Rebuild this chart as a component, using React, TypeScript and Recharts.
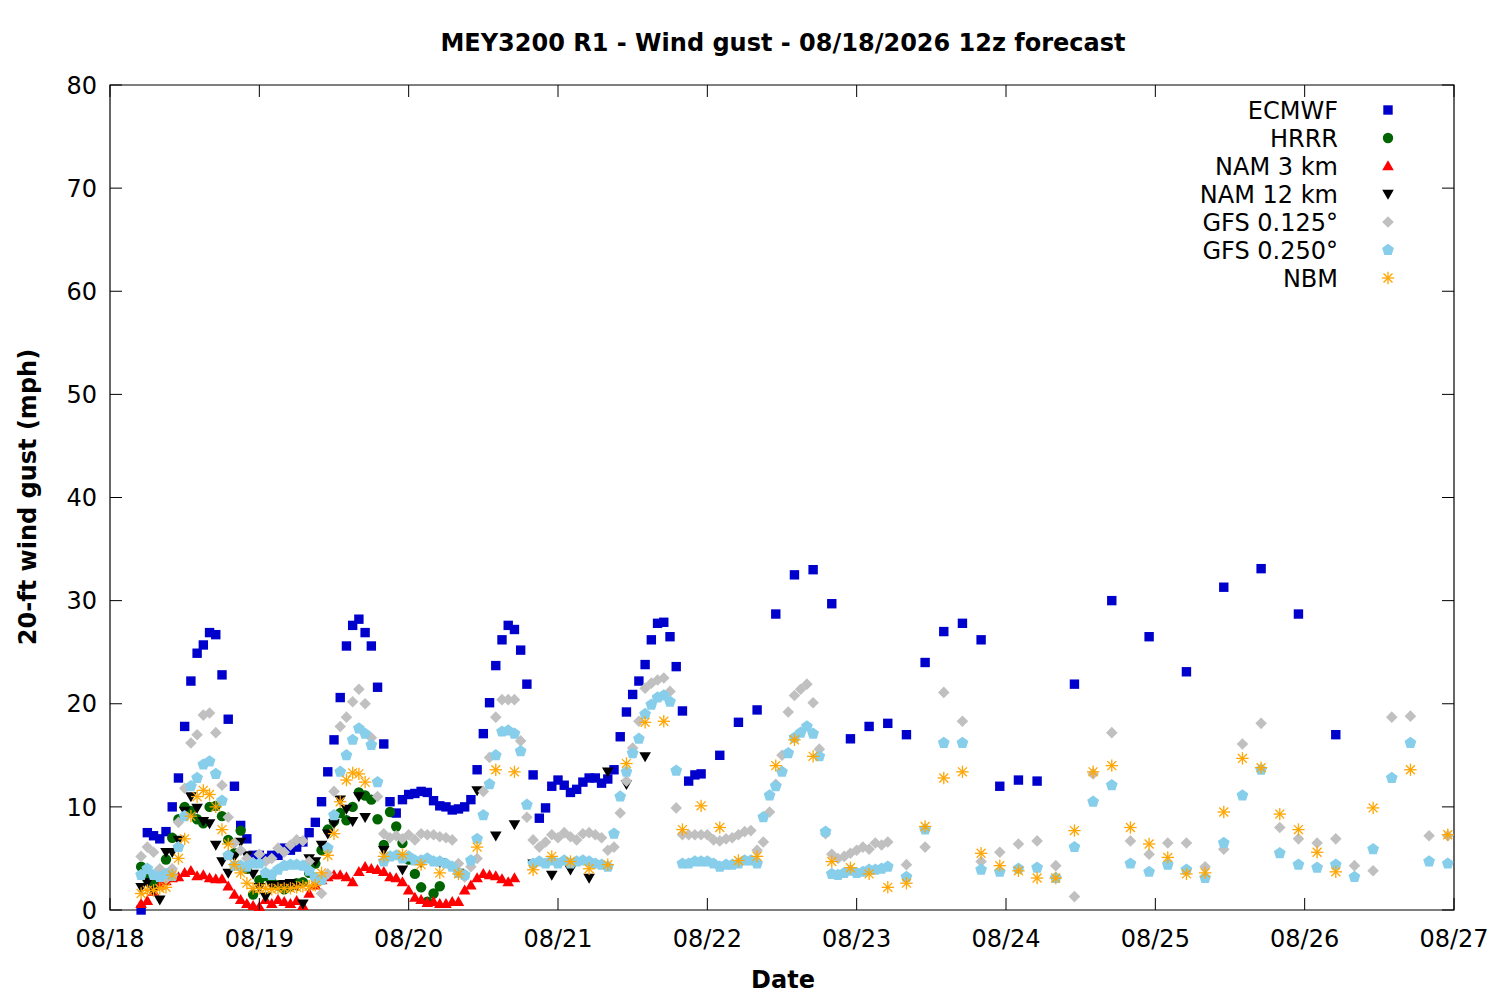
import React from 'react';
import { ScatterChart, Scatter, XAxis, YAxis, ReferenceArea } from 'recharts';

// x values are hours after 08/18 00:00 local time
const hoursFrom = (start: number, end: number, step: number) => {
    const out: number[] = [];
    for (let h = start; h <= end; h += step) out.push(h);
    return out;
};

const dateLabels = ['08/18', '08/19', '08/20', '08/21', '08/22', '08/23', '08/24', '08/25', '08/26', '08/27'];
const dateTicks = [0, 24, 48, 72, 96, 120, 144, 168, 192, 216];
const gustTicks = [0, 10, 20, 30, 40, 50, 60, 70, 80];

const ecmwfHours = [...hoursFrom(5, 95, 1), ...hoursFrom(98, 149, 3), ...hoursFrom(155, 197, 6)];
const ecmwfGust = [
    0, 7.5, 7.2, 6.9, 7.6, 10.0, 12.8, 17.8, 22.2, 24.9,
    25.7, 26.9, 26.7, 22.8, 18.5, 12.0, 8.2, 6.9, 5.3, 5.3,
    5.0, 5.3, 5.3, 6.0, 5.8, 6.1, 6.6, 7.5, 8.5, 10.5,
    13.4, 16.5, 20.6, 25.6, 27.6, 28.2, 26.9, 25.6, 21.6, 16.1,
    10.5, 9.4, 10.7, 11.2, 11.3, 11.5, 11.4, 10.6, 10.1, 10.0,
    9.7, 9.8, 10.0, 10.7, 13.6, 17.1, 20.1, 23.7, 26.2, 27.6,
    27.2, 25.2, 21.9, 13.1, 8.9, 9.9, 12.0, 12.6, 12.1, 11.4,
    11.7, 12.4, 12.8, 12.8, 12.3, 12.7, 13.6, 16.8, 19.2, 20.9,
    22.2, 23.8, 26.2, 27.8, 27.9, 26.5, 23.6, 19.3, 12.5, 13.1,
    13.2,
    15.0, 18.2, 19.4, 28.7, 32.5, 33.0, 29.7, 16.6, 17.8, 18.1,
    17.0, 24.0, 27.0, 27.8, 26.2, 12.0, 12.6, 12.5,
    21.9, 30.0, 26.5, 23.1, 31.3, 33.1, 28.7, 17.0,
];

const hrrrHours = hoursFrom(5, 53, 1);
const hrrrGust = [
    4.2, 3.0, 2.6, 3.2, 4.9, 7.0, 8.8, 10.0, 9.6, 8.8,
    8.4, 10.0, 10.1, 9.1, 6.8, 5.5, 7.7, 4.0, 1.5, 2.9,
    3.3, 2.7, 2.4, 2.0, 2.3, 2.6, 2.7, 3.6, 4.5, 5.8,
    7.8, 8.6, 9.4, 8.7, 10.0, 11.4, 11.1, 10.7, 8.8, 6.3,
    9.5, 8.1, 6.5, 4.9, 3.5, 2.2, 0.8, 1.6, 2.3,
];

const nam3Hours = hoursFrom(5, 65, 1);
const nam3Gust = [
    0.6, 0.9, 1.8, 2.4, 2.8, 3.1, 3.2, 3.6, 3.8, 3.3,
    3.4, 3.1, 3.0, 3.0, 2.3, 1.5, 1.0, 0.6, 0.4, 0.3,
    1.0, 0.6, 1.0, 0.8, 0.6, 0.9, 0.4, 1.6, 2.4, 2.9,
    3.2, 3.4, 3.4, 3.2, 2.7, 3.7, 4.2, 4.0, 3.9, 3.7,
    3.2, 3.1, 2.7, 1.9, 1.2, 1.0, 0.7, 0.8, 0.6, 0.6,
    0.8, 0.8, 1.9, 2.4, 3.1, 3.5, 3.4, 3.3, 3.0, 2.7,
    3.1,
];

const nam12Hours = [...hoursFrom(5, 41, 1), ...hoursFrom(44, 86, 3)];
const nam12Gust = [
    2.2, 2.7, 1.9, 1.0, 5.6, 5.6, 6.8, 9.6, 11.0, 9.9,
    8.6, 8.4, 6.3, 4.7, 3.6, 5.2, 6.6, 5.3, 3.5, 2.2,
    1.3, 2.4, 2.4, 2.5, 2.6, 2.3, 0.6, 5.0, 4.7, 6.3,
    7.4, 8.4, 10.7, 9.8, 8.6, 11.0, 9.0,
    5.8, 3.9, 4.6, 4.6, 3.6, 11.6, 7.2, 8.3, 4.5, 3.4,
    3.9, 3.1, 13.4, 12.2, 14.9,
];

const gfsHours = [...hoursFrom(5, 125, 1), ...hoursFrom(128, 215, 3)];
const gfs0125Gust = [
    5.2, 6.1, 5.6, 4.0, 3.0, 4.0, 8.5, 11.8, 16.2, 17.0,
    18.9, 19.1, 17.2, 12.1, 9.0, 6.5, 5.8, 5.0, 4.6, 5.4,
    4.7, 5.0, 6.0, 5.6, 6.3, 6.8, 6.7, 4.7, 3.0, 1.6,
    3.5, 11.5, 17.8, 18.7, 20.2, 21.4, 20.0, 16.7, 11.0, 7.4,
    7.0, 7.2, 6.9, 7.3, 6.8, 7.4, 7.3, 7.3, 7.1, 7.0,
    6.8, 4.5, 3.2, 4.2, 5.0, 11.5, 14.8, 18.7, 20.4, 20.4,
    20.4, 16.4, 9.0, 6.8, 6.1, 6.6, 7.3, 7.0, 7.5, 7.1,
    6.8, 7.4, 7.5, 7.3, 7.0, 5.8, 6.1, 9.4, 12.5, 15.7,
    18.3, 21.5, 22.0, 22.3, 22.5, 21.2, 9.9, 7.3, 7.3, 7.3,
    7.3, 7.3, 6.8, 6.7, 6.9, 7.0, 7.3, 7.6, 7.7, 5.8,
    6.6, 9.5, 12.2, 15.0, 19.2, 20.8, 21.4, 21.9, 20.1, 15.6,
    7.4, 5.4, 5.0, 5.2, 5.5, 5.8, 6.1, 5.9, 6.5, 6.3,
    6.6,
    4.4, 6.1, 21.1, 18.3, 4.7, 5.6, 6.4, 6.7, 4.3, 1.3,
    13.2, 17.2, 6.7, 5.4, 6.5, 6.5, 4.2, 5.9, 16.1, 18.1,
    8.0, 6.9, 6.5, 6.9, 4.3, 3.8, 18.7, 18.8, 7.2, 7.2,
];
const gfs0250Gust = [
    3.4, 4.0, 3.4, 3.2, 3.5, 3.3, 6.1, 9.1, 12.0, 12.8,
    14.1, 14.4, 13.2, 10.6, 5.3, 4.3, 4.3, 4.2, 4.5, 4.5,
    3.6, 3.4, 3.9, 4.3, 4.4, 4.4, 4.3, 3.8, 3.1, 2.9,
    6.0, 9.2, 13.4, 15.0, 16.5, 17.6, 17.1, 16.0, 12.4, 4.7,
    5.2, 5.3, 5.0, 5.2, 4.8, 4.8, 5.0, 4.7, 4.7, 4.5,
    4.2, 3.6, 3.4, 4.8, 6.9, 9.2, 12.2, 15.0, 17.3, 17.4,
    17.1, 15.4, 10.2, 4.5, 4.7, 4.5, 4.8, 4.5, 4.8, 4.5,
    4.7, 4.8, 4.7, 4.5, 4.4, 4.2, 7.4, 11.0, 13.4, 15.2,
    16.6, 19.0, 19.9, 20.6, 20.8, 20.2, 13.5, 4.5, 4.5, 4.7,
    4.7, 4.7, 4.5, 4.2, 4.4, 4.4, 4.5, 4.8, 4.8, 4.5,
    9.0, 11.1, 12.0, 13.4, 15.2, 16.7, 17.2, 17.8, 17.1, 14.9,
    7.6, 3.5, 3.4, 3.6, 3.8, 3.6, 3.7, 3.9, 3.9, 4.0,
    4.2,
    3.2, 7.8, 16.2, 16.2, 3.9, 3.7, 4.0, 4.1, 3.1, 6.1,
    10.5, 12.1, 4.5, 3.7, 4.4, 3.9, 3.1, 6.5, 11.1, 13.6,
    5.5, 4.4, 4.1, 4.4, 3.2, 5.9, 12.8, 16.2, 4.7, 4.5,
];

const nbmHours = [...hoursFrom(5, 41, 1), ...hoursFrom(44, 197, 3), ...hoursFrom(203, 215, 6)];
const nbmGust = [
    1.6, 1.9, 1.9, 2.1, 2.2, 3.4, 5.0, 6.9, 9.1, 11.0,
    11.6, 11.2, 10.0, 7.8, 6.4, 4.4, 3.6, 2.6, 2.1, 2.1,
    2.1, 2.0, 2.1, 2.1, 2.1, 2.2, 2.3, 2.3, 2.4, 3.6,
    5.3, 7.4, 10.5, 12.6, 13.3, 13.2, 12.4,
    5.2, 5.4, 4.4, 3.6, 3.5, 6.1, 13.6, 13.4, 3.9, 5.2,
    4.7, 4.0, 4.4, 14.2, 18.2, 18.3, 7.8, 10.1, 8.0, 4.8,
    5.2, 14.0, 16.5, 14.9, 4.7, 4.1, 3.5, 2.2, 2.6, 8.1,
    12.8, 13.4, 5.5, 4.3, 3.8, 3.1, 3.1, 7.7, 13.4, 14.0,
    8.0, 6.4, 5.1, 3.5, 3.6, 9.5, 14.7, 13.8, 9.3, 7.8,
    5.6, 3.7,
    9.9, 13.6, 7.3,
];

const FONT = '"DejaVu Sans", Verdana, sans-serif';
const FONT_SIZE = 24;
const W = 1500;
const H = 1000;
const PLOT = { left: 110, top: 85, right: 1454, bottom: 910 };
const TICK_LEN = 12;

type ShapeProps = { cx?: number; cy?: number; color: string };

const Square = ({ cx = 0, cy = 0, color }: ShapeProps) => (
    <rect x={cx - 4.7} y={cy - 4.7} width={9.4} height={9.4} fill={color} />
);
const Dot = ({ cx = 0, cy = 0, color }: ShapeProps) => <circle cx={cx} cy={cy} r={5.2} fill={color} />;
const TriUp = ({ cx = 0, cy = 0, color }: ShapeProps) => (
    <polygon points={`${cx},${cy - 5.8} ${cx + 5.8},${cy + 4.2} ${cx - 5.8},${cy + 4.2}`} fill={color} />
);
const TriDown = ({ cx = 0, cy = 0, color }: ShapeProps) => (
    <polygon points={`${cx},${cy + 5.8} ${cx + 5.8},${cy - 4.2} ${cx - 5.8},${cy - 4.2}`} fill={color} />
);
const Diamond = ({ cx = 0, cy = 0, color }: ShapeProps) => (
    <polygon points={`${cx},${cy - 5.8} ${cx + 5.8},${cy} ${cx},${cy + 5.8} ${cx - 5.8},${cy}`} fill={color} />
);
const Pentagon = ({ cx = 0, cy = 0, color }: ShapeProps) => {
    const pts = [0, 1, 2, 3, 4]
        .map((i) => {
            const a = -Math.PI / 2 + (i * 2 * Math.PI) / 5;
            return `${cx + 6.2 * Math.cos(a)},${cy + 6.2 * Math.sin(a)}`;
        })
        .join(' ');
    return <polygon points={pts} fill={color} />;
};
const Asterisk = ({ cx = 0, cy = 0, color }: ShapeProps) => {
    const r = 6.2;
    const d = r * 0.72;
    return (
        <g stroke={color} strokeWidth={1.3}>
            <line x1={cx - r} y1={cy} x2={cx + r} y2={cy} />
            <line x1={cx} y1={cy - r} x2={cx} y2={cy + r} />
            <line x1={cx - d} y1={cy - d} x2={cx + d} y2={cy + d} />
            <line x1={cx - d} y1={cy + d} x2={cx + d} y2={cy - d} />
        </g>
    );
};

const toPoints = (hours: number[], gust: number[]) => gust.map((v, i) => ({ h: hours[i], v }));

const series = [
    { name: 'ECMWF', color: '#0000cd', Shape: Square, data: toPoints(ecmwfHours, ecmwfGust) },
    { name: 'HRRR', color: '#006400', Shape: Dot, data: toPoints(hrrrHours, hrrrGust) },
    { name: 'NAM 3 km', color: '#ff0000', Shape: TriUp, data: toPoints(nam3Hours, nam3Gust) },
    { name: 'NAM 12 km', color: '#000000', Shape: TriDown, data: toPoints(nam12Hours, nam12Gust) },
    { name: 'GFS 0.125°', color: '#c0c0c0', Shape: Diamond, data: toPoints(gfsHours, gfs0125Gust) },
    { name: 'GFS 0.250°', color: '#87ceeb', Shape: Pentagon, data: toPoints(gfsHours, gfs0250Gust) },
    { name: 'NBM', color: '#ffa500', Shape: Asterisk, data: toPoints(nbmHours, nbmGust) },
];

const YTick = (props: any) => {
    const { y, payload } = props;
    return (
        <g>
            <line x1={PLOT.left} x2={PLOT.left + TICK_LEN} y1={y} y2={y} stroke="#000" />
            <line x1={PLOT.right - TICK_LEN} x2={PLOT.right} y1={y} y2={y} stroke="#000" />
            <text x={PLOT.left - 13} y={y} dy="0.36em" textAnchor="end" fontFamily={FONT} fontSize={FONT_SIZE} fill="#000">
                {payload.value}
            </text>
        </g>
    );
};

const XTick = (props: any) => {
    const { x, payload, index } = props;
    return (
        <g>
            <line x1={x} x2={x} y1={PLOT.bottom} y2={PLOT.bottom - TICK_LEN} stroke="#000" />
            <line x1={x} x2={x} y1={PLOT.top} y2={PLOT.top + TICK_LEN} stroke="#000" />
            <text x={x} y={PLOT.bottom + 37} textAnchor="middle" fontFamily={FONT} fontSize={FONT_SIZE} fill="#000">
                {dateLabels[index] ?? payload.value}
            </text>
        </g>
    );
};

const Overlay = () => (
    <svg width={W} height={H} style={{ position: 'absolute', left: 0, top: 0, pointerEvents: 'none' }}>
        <text x={783} y={51} textAnchor="middle" fontFamily={FONT} fontSize={FONT_SIZE} fontWeight="bold">
            MEY3200 R1 - Wind gust - 08/18/2026 12z forecast
        </text>
        <text x={783} y={988} textAnchor="middle" fontFamily={FONT} fontSize={FONT_SIZE} fontWeight="bold">
            Date
        </text>
        <text
            x={27}
            y={497}
            dy="0.36em"
            textAnchor="middle"
            transform="rotate(-90 27 497)"
            fontFamily={FONT}
            fontSize={FONT_SIZE}
            fontWeight="bold"
        >
            20-ft wind gust (mph)
        </text>
        {series.map((s, i) => {
            const y = 110 + i * 28;
            const { Shape } = s;
            return (
                <g key={s.name}>
                    <text x={1338} y={y} dy="0.36em" textAnchor="end" fontFamily={FONT} fontSize={FONT_SIZE}>
                        {s.name}
                    </text>
                    <Shape cx={1388} cy={y} color={s.color} />
                </g>
            );
        })}
    </svg>
);

const App: React.FC = () => {
    return (
        <div style={{ position: 'absolute', left: 0, top: 0, width: W, height: H, background: '#fff' }}>
            <ScatterChart
                width={W}
                height={H}
                margin={{ top: PLOT.top, right: W - PLOT.right, bottom: 30, left: 30 }}
            >
                <XAxis
                    type="number"
                    dataKey="h"
                    domain={[0, 216]}
                    ticks={dateTicks}
                    height={60}
                    axisLine={false}
                    tickLine={false}
                    tickSize={0}
                    tick={<XTick />}
                    interval={0}
                />
                <YAxis
                    type="number"
                    dataKey="v"
                    domain={[0, 80]}
                    ticks={gustTicks}
                    width={80}
                    axisLine={false}
                    tickLine={false}
                    tickSize={0}
                    tick={<YTick />}
                    interval={0}
                />
                <ReferenceArea x1={0} x2={216} y1={0} y2={80} fill="none" stroke="#000" strokeWidth={1.2} ifOverflow="visible" />
                {series.map((s) => (
                    <Scatter
                        key={s.name}
                        name={s.name}
                        data={s.data}
                        isAnimationActive={false}
                        shape={(p: any) => <s.Shape cx={p.cx} cy={p.cy} color={s.color} />}
                    />
                ))}
            </ScatterChart>
            <Overlay />
        </div>
    );
};

export default App;
